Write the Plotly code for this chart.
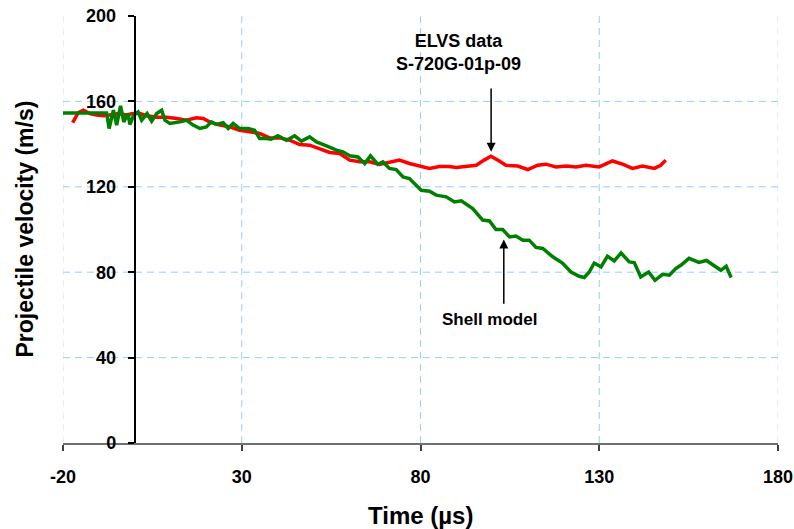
import plotly.graph_objects as go

# ELVS data (red)
elvs_t = [-17.3, -15.7, -14.3, -12.5, -10.6, -8.7, -7.0, -4.5, -2.2, -0.5, 1.5, 3.4, 6.2, 9.0,
          11.8, 14.5, 17.3, 19.2, 21.0, 23.9, 26.6, 29.4, 32.2, 35.0, 37.8, 40.6, 43.4, 46.2,
          49.0, 51.8, 54.6, 57.4, 60.2, 63.0, 65.8, 68.5, 71.3, 74.1, 76.9, 79.7, 82.5, 85.3,
          88.0, 90.0, 92.8, 95.6, 97.8, 99.7, 101.8, 103.9, 107.2, 110.0, 112.8, 115.1, 117.9,
          120.7, 123.5, 126.3, 130.0, 133.7, 136.5, 139.3, 142.1, 145.4, 147.2, 148.6]
elvs_v = [150.1, 154.8, 155.9, 154.3, 153.6, 153.3, 153.6, 154.3, 153.6, 154.3, 154.3, 153.3, 152.6, 152.6,
          152.0, 151.2, 152.3, 152.0, 150.4, 148.9, 148.1, 146.5, 145.8, 145.0, 142.9, 142.9, 141.8, 139.8,
          139.5, 138.0, 136.1, 135.6, 132.5, 131.7, 131.7, 130.5, 131.7, 132.5, 130.9, 129.8, 128.6, 129.5,
          129.5, 129.0, 129.7, 130.1, 132.5, 134.3, 132.3, 130.1, 129.7, 128.1, 130.1, 130.6, 129.3,
          129.7, 129.3, 130.1, 129.3, 132.1, 130.6, 128.6, 129.7, 128.6, 130.1, 132.5]

# Shell model (green)
shell_t = [-20, -7.8, -7.1, -5.9, -5.0, -3.9, -3.0, -1.8, -1.3, -0.2, 1.0, 2.0, 3.5, 4.8, 6.2, 7.6,
           8.5, 9.9, 12.7, 14.5, 16.4, 18.3, 20.1, 21.5, 22.9, 24.8, 26.2, 27.6, 29.4, 31.8, 33.6,
           35.0, 36.9, 38.2, 40.1, 42.5, 44.8, 46.7, 49.0, 50.9, 53.7, 56.5, 58.3, 60.2, 62.5, 64.4,
           66.0, 68.1, 69.5, 71.3, 73.2, 75.1, 76.9, 78.8, 80.2, 82.5, 84.4, 87.2, 89.5, 91.4, 94.6,
           97.4, 99.3, 101.1, 103.0, 104.9, 106.7, 108.6, 110.4, 112.3, 114.2, 117.0, 119.7, 122.1,
           124.4, 125.8, 127.2, 128.6, 130.5, 132.3, 134.2, 136.1, 138.4, 139.8, 141.6, 143.8, 145.6,
           147.7, 149.6, 151.4, 153.0, 155.1, 157.9, 160.0, 162.1, 164.0, 165.5, 166.9]
shell_v = [154.6, 154.6, 147.3, 155.9, 148.9, 157.9, 150.4, 154.3, 149.2, 153.6, 155.1, 151.2, 154.3, 150.7, 154.3, 155.9,
           151.2, 149.7, 150.4, 151.2, 148.9, 147.3, 148.0, 150.4, 149.2, 150.0, 147.3, 149.7, 147.3, 147.3, 146.5,
           142.6, 142.6, 142.3, 143.9, 141.8, 143.9, 141.4, 143.4, 141.0, 139.2, 137.2, 136.4, 134.5, 134.0, 130.9,
           134.5, 130.5, 131.7, 128.6, 128.1, 124.6, 123.9, 120.8, 118.4, 117.9, 116.1, 115.3, 112.9, 113.4, 109.8,
           104.4, 104.0, 100.0, 100.0, 96.5, 96.9, 95.0, 95.0, 91.6, 91.1, 87.2, 84.3, 80.1,
           78.1, 77.5, 80.1, 84.3, 82.5, 87.5, 85.3, 89.0, 84.8, 84.5, 77.8, 80.1, 76.2,
           79.0, 78.6, 81.7, 83.5, 86.5, 84.6, 85.5, 83.3, 80.9, 82.8, 77.5]

x_ticks = [-20, 30, 80, 130, 180]
x_tick_labels = ["-20", "30", "80", "130", "180"]
x_inner_grid = [30, 80, 130]
x_edge_grid = [-20, 180]
y_ticks = [0, 40, 80, 120, 160, 200]
y_grid = [40, 80, 120, 160]

FONT = "Arial, Liberation Sans, sans-serif"
GRID = "#99CCFF"
GRID_LIGHT = "#DDEBFB"
DASH = "7px,5px"

fig = go.Figure()
fig.add_trace(go.Scatter(x=elvs_t, y=elvs_v, mode="lines",
                         line=dict(color="#FF0000", width=3.5), showlegend=False))
fig.add_trace(go.Scatter(x=shell_t, y=shell_v, mode="lines",
                         line=dict(color="#008000", width=3.5), showlegend=False))

fig.update_layout(
    width=794, height=529,
    margin=dict(l=63, r=16, t=16, b=86),
    paper_bgcolor="white", plot_bgcolor="white",
    font=dict(family=FONT, color="black"),
    xaxis=dict(range=[-20, 180], tickvals=x_ticks, ticktext=x_tick_labels,
               ticks="outside", ticklen=6,
               tickcolor="#404040", tickwidth=1.5, automargin=False,
               showline=True, linecolor="#707070", linewidth=1.5,
               showgrid=False, zeroline=False, ticklabelstandoff=11,
               ticklabeloverflow="allow",
               tickfont=dict(size=18, weight="bold", family=FONT)),
    yaxis=dict(range=[0, 200], tickvals=y_ticks, ticks="outside", ticklen=6,
               tickcolor="black", tickwidth=1.5, automargin=False,
               showline=True, linecolor="black", linewidth=1.5,
               anchor="free", position=0.1,
               showgrid=False, zeroline=False, ticklabelstandoff=8,
               ticklabeloverflow="allow",
               tickfont=dict(size=18, weight="bold", family=FONT)),
)

# Dashed gridlines derived from the tick lists
for xv in x_inner_grid:
    fig.add_shape(type="line", xref="x", yref="paper", x0=xv, x1=xv, y0=0, y1=1,
                  line=dict(color=GRID, width=1, dash=DASH), layer="below")
for xv in x_edge_grid:
    fig.add_shape(type="line", xref="x", yref="paper", x0=xv, x1=xv, y0=0, y1=1,
                  line=dict(color=GRID_LIGHT, width=1.5, dash=DASH), layer="below")
for yv in y_grid:
    fig.add_shape(type="line", xref="paper", yref="y", x0=0, x1=1, y0=yv, y1=yv,
                  line=dict(color=GRID, width=1, dash=DASH), layer="below")

# Axis titles
fig.add_annotation(text="Time (µs)", xref="paper", yref="paper", x=0.5, y=-0.169,
                   showarrow=False, xanchor="center", yanchor="middle",
                   font=dict(size=24, weight="bold", family=FONT))
fig.add_annotation(text="Projectile velocity (m/s)", xref="paper", yref="paper",
                   x=-0.0545, y=0.5, textangle=-90, showarrow=False,
                   xanchor="center", yanchor="middle",
                   font=dict(size=23, weight="bold", family=FONT))

# Labels with arrows
fig.add_annotation(text="ELVS data<br>S-720G-01p-09", x=90.5, y=172, xref="x", yref="y",
                   showarrow=False, xanchor="center", yanchor="bottom",
                   font=dict(size=18, weight="bold", family=FONT))
fig.add_annotation(text="", x=99.75, y=136.4, ax=99.75, ay=166.8, xref="x", yref="y",
                   axref="x", ayref="y", showarrow=True, arrowhead=2, arrowsize=1.2,
                   arrowwidth=1.5, arrowcolor="black")
fig.add_annotation(text="Shell model", x=99.3, y=57.7, xref="x", yref="y",
                   showarrow=False, xanchor="center", yanchor="middle",
                   font=dict(size=17, weight="bold", family=FONT))
fig.add_annotation(text="", x=103.3, y=95.3, ax=103.3, ay=64.5, xref="x", yref="y",
                   axref="x", ayref="y", showarrow=True, arrowhead=2, arrowsize=1.2,
                   arrowwidth=1.5, arrowcolor="black")

# remove the default page margin so the figure fills the window exactly
fig.write_html("out.html", config={"displayModeBar": False},
               post_script="document.body.style.margin='0';document.body.style.overflow='hidden';")
